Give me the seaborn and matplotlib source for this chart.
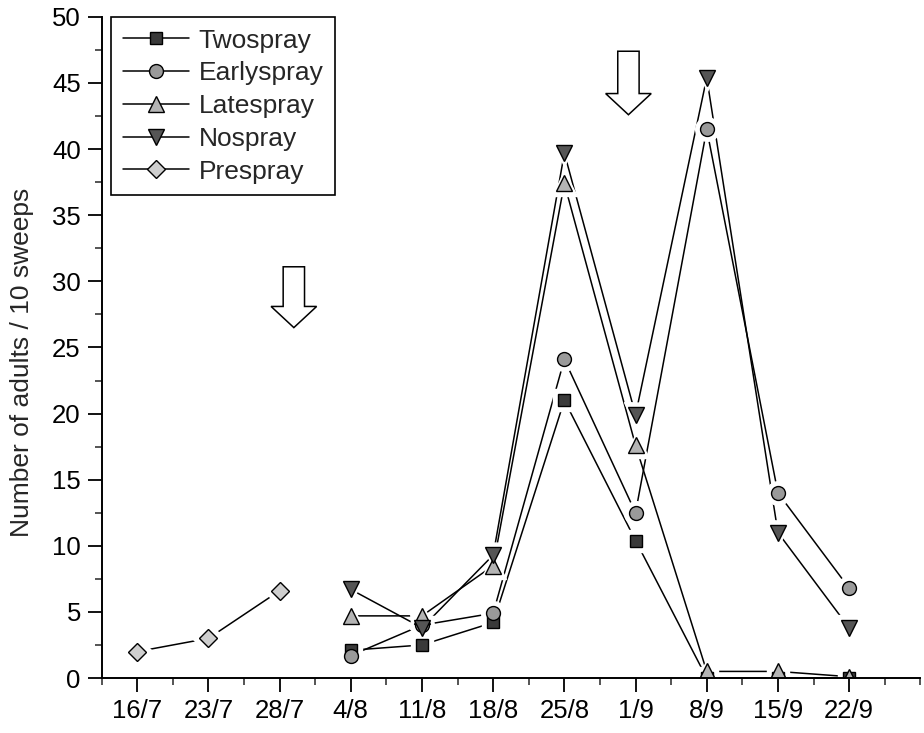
import numpy as np
import pandas as pd
import matplotlib
matplotlib.use("Agg")
import matplotlib.pyplot as plt
import seaborn as sns
from matplotlib.patches import FancyArrow
from matplotlib.lines import Line2D
from matplotlib.ticker import MultipleLocator

dates = ["16/7", "23/7", "28/7", "4/8", "11/8", "18/8", "25/8", "1/9", "8/9", "15/9", "22/9"]
nan = np.nan
twospray = [nan, nan, nan, 2.1, 2.5, 4.2, 21.0, 10.4, 0.0, 0.0, 0.0]
earlyspray = [nan, nan, nan, 1.7, 4.0, 4.9, 24.1, 12.5, 41.5, 14.0, 6.8]
latespray = [nan, nan, nan, 4.7, 4.7, 8.5, 37.4, 17.6, 0.5, 0.5, 0.1]
nospray = [nan, nan, nan, 6.7, 3.8, 9.3, 39.7, 19.9, 45.4, 11.0, 3.8]
prespray = [2.0, 3.0, 6.6, nan, nan, nan, nan, nan, nan, nan, nan]

series = {
    "Twospray": twospray,
    "Earlyspray": earlyspray,
    "Latespray": latespray,
    "Nospray": nospray,
    "Prespray": prespray,
}
markers = {"Twospray": "s", "Earlyspray": "o", "Latespray": "^", "Nospray": "v", "Prespray": "D"}
fills = {"Twospray": "#3a3a3a", "Earlyspray": "#9a9a9a", "Latespray": "#b4b4b4",
         "Nospray": "#555555", "Prespray": "#cfcfcf"}
msizes = {"Twospray": 9, "Earlyspray": 10, "Latespray": 11, "Nospray": 11, "Prespray": 9}

sns.set_style("ticks")
plt.rcParams["font.family"] = ["Liberation Sans", "DejaVu Sans"]

fig = plt.figure(figsize=(9.24, 7.33), dpi=100)
ax = fig.add_axes([0.110, 0.075, 0.886, 0.902])

x = np.arange(len(dates))
frames = {}
for name, vals in series.items():
    frames[name] = pd.DataFrame({"x": x, "y": vals}).dropna()

# connecting lines
for name, df in frames.items():
    sns.lineplot(data=df, x="x", y="y", ax=ax, color="black", linewidth=1.1,
                 clip_on=False, zorder=2, legend=False)
# white halo around markers (gap between line and marker)
for name, df in frames.items():
    ax.plot(df["x"], df["y"], linestyle="none", marker=markers[name],
            markersize=msizes[name] + 7, markerfacecolor="white",
            markeredgecolor="white", clip_on=True, zorder=3)
# markers
for name, df in frames.items():
    ax.plot(df["x"], df["y"], linestyle="none", marker=markers[name],
            markersize=msizes[name], markerfacecolor=fills[name],
            markeredgecolor="black", markeredgewidth=1.0, clip_on=True, zorder=4)

ax.set_xlim(-0.5, 11)
ax.set_ylim(0, 50)
ax.set_xticks(x)
ax.set_xticklabels(dates)
ax.xaxis.set_minor_locator(MultipleLocator(0.5))
ax.yaxis.set_major_locator(MultipleLocator(5))
ax.yaxis.set_minor_locator(MultipleLocator(2.5))
ax.set_xlabel("")
ax.set_ylabel("Number of adults / 10 sweeps", fontsize=19)
ax.yaxis.set_label_coords(-0.083, 0.478)
ax.tick_params(axis="both", which="major", labelsize=18.5, length=10, width=1.3,
               pad=5, direction="out", color="black", labelcolor="black")
ax.tick_params(axis="both", which="minor", length=5, width=1.1, direction="out")
for s in ["top", "right"]:
    ax.spines[s].set_visible(False)
for s in ["left", "bottom"]:
    ax.spines[s].set_linewidth(1.4)
    ax.spines[s].set_color("black")
    ax.spines[s].set_zorder(5)

# spray arrows
for ax_x, y_top, y_bot in [(2.2, 31.1, 26.5), (6.9, 47.4, 42.6)]:
    arr = FancyArrow(ax_x, y_top, 0, y_bot - y_top, width=0.30, head_width=0.64,
                     head_length=1.6, length_includes_head=True,
                     facecolor="white", edgecolor="black", linewidth=1.1, zorder=2)
    ax.add_patch(arr)

handles = [Line2D([], [], color="black", linewidth=1.1, marker=markers[n],
                  markersize=msizes[n], markerfacecolor=fills[n],
                  markeredgecolor="black", markeredgewidth=1.0) for n in series]
leg = ax.legend(handles, list(series.keys()), loc="upper left",
                bbox_to_anchor=(0.012, 1.0), fontsize=19,
                frameon=True, fancybox=False, edgecolor="black", framealpha=1,
                handlelength=2.5, handletextpad=0.35, borderpad=0.45, labelspacing=0.33,
                numpoints=1, borderaxespad=0.0)
leg.get_frame().set_linewidth(1.2)
leg.set_zorder(6)

fig.savefig("out.png", dpi=100)
